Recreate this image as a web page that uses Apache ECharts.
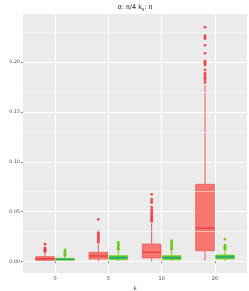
<!DOCTYPE html>
<html><head><meta charset="utf-8">
<script src="https://cdn.jsdelivr.net/npm/echarts@6/dist/echarts.min.js"></script>
<style>html,body{margin:0;padding:0;background:#fff}#c{width:249px;height:291px}</style>
</head><body><div id="c"></div>
<script>
const categories = ['0', '5', '10', '20'];
const yTicks = [0, 0.05, 0.10, 0.15, 0.20];
const yMinor = [0.025, 0.075, 0.125, 0.175, 0.225];
// [lowerWhisker, Q1, median, Q3, upperWhisker]
const redBox = [
  [0.0000, 0.0010, 0.0025, 0.0046, 0.0090],
  [0.0000, 0.0023, 0.0053, 0.0090, 0.0170],
  [0.0000, 0.0033, 0.0090, 0.0173, 0.0380],
  [0.0005, 0.0106, 0.0333, 0.0773, 0.1770]
];
const greenBox = [
  [0.0000, 0.0010, 0.0020, 0.0030, 0.0050],
  [0.0000, 0.0016, 0.0035, 0.0056, 0.0112],
  [0.0000, 0.0016, 0.0035, 0.0056, 0.0112],
  [0.0000, 0.0023, 0.0043, 0.0063, 0.0110]
];
const redOutliers = [
  [0.0172, 0.0135, 0.0125, 0.0118, 0.0110, 0.0103, 0.0097],
  [0.0420, 0.0295, 0.0280, 0.0265, 0.0250, 0.0235, 0.0220, 0.0205, 0.0190],
  [0.0673, 0.0625, 0.0605, 0.0590, 0.0545, 0.0520, 0.0500, 0.0480, 0.0460, 0.0445, 0.0430, 0.0415, 0.0400],
  [0.2353, 0.2267, 0.2250, 0.2237, 0.2170, 0.2090, 0.2010, 0.1997, 0.1987, 0.1973, 0.1923, 0.1890, 0.1873, 0.1850, 0.1837, 0.1823, 0.1797]
];
const greenOutliers = [
  [0.0113, 0.0095, 0.0085, 0.0075, 0.0065, 0.0058],
  [0.0190, 0.0175, 0.0160, 0.0145, 0.0130, 0.0120],
  [0.0206, 0.0190, 0.0175, 0.0160, 0.0145, 0.0130, 0.0120],
  [0.0223, 0.0163, 0.0150, 0.0140, 0.0130, 0.0120]
];

const OFF = 0.1875, BW = 0.35;
const RED = {fill: 'rgba(248,105,98,0.9)', stroke: '#EE5A5A', median: '#E3363C', pt: '#EE3E48'};
const GRN = {fill: 'rgba(70,196,45,0.95)', stroke: '#7DD324', median: '#1E9F86', pt: '#66C91A'};

function boxData(arr) { return arr.map((b, i) => [i + 1].concat(b)); }
function ptData(arr, off) {
  const out = [];
  arr.forEach((vals, i) => vals.forEach(v => out.push([i + 1 + off, v])));
  return out;
}
function boxRender(off, c) {
  return function (params, api) {
    const x = api.value(0) + off;
    const lo = api.coord([x, api.value(1)]);
    const q1 = api.coord([x, api.value(2)]);
    const md = api.coord([x, api.value(3)]);
    const q3 = api.coord([x, api.value(4)]);
    const hi = api.coord([x, api.value(5)]);
    const hw = api.size([BW, 0])[0] / 2;
    return {type: 'group', children: [
      {type: 'line', shape: {x1: lo[0], y1: lo[1], x2: q1[0], y2: q1[1]}, style: {stroke: c.stroke, lineWidth: 1}},
      {type: 'line', shape: {x1: q3[0], y1: q3[1], x2: hi[0], y2: hi[1]}, style: {stroke: c.stroke, lineWidth: 1}},
      {type: 'rect', shape: {x: q3[0] - hw, y: q3[1], width: 2 * hw, height: q1[1] - q3[1]}, style: {fill: c.fill, stroke: c.stroke, lineWidth: 0.8}},
      {type: 'line', shape: {x1: md[0] - hw, y1: md[1], x2: md[0] + hw, y2: md[1]}, style: {stroke: c.median, lineWidth: 1.2}}
    ]};
  };
}

const chart = echarts.init(document.getElementById('c'), null, {renderer: 'canvas'});
chart.setOption({
  animation: false,
  backgroundColor: '#fff',
  grid: {left: 23, right: 2, top: 14, bottom: 18, show: true, backgroundColor: '#EBEBEB', borderWidth: 0, outerBoundsMode: 'none', containLabel: false},
  graphic: [{
    type: 'text', x: 135, y: 3,
    style: {text: 'σ: π/4 k{s|s}: π', align: 'center', fontSize: 6.5, fill: '#1a1a1a', fontFamily: 'DejaVu Sans',
      rich: {s: {fontSize: 4.5, padding: [4, 0, 0, 0], fill: '#1a1a1a'}}}
  }],
  xAxis: {
    type: 'value', min: 0.4, max: 4.6,
    name: 'ε', nameLocation: 'middle', nameGap: 11,
    nameTextStyle: {fontSize: 6, color: '#1a1a1a', fontFamily: 'DejaVu Sans'},
    axisLine: {show: false},
    axisTick: {show: true, length: 2, lineStyle: {color: '#333', width: 0.6}, customValues: [1, 2, 3, 4]},
    axisLabel: {customValues: [1, 2, 3, 4], formatter: v => categories[Math.round(v) - 1], fontSize: 5, color: '#4D4D4D', margin: 3, fontFamily: 'DejaVu Sans'},
    splitLine: {show: true, lineStyle: {color: '#fff', width: 1.1}}
  },
  yAxis: {
    type: 'value', min: -0.0118, max: 0.2485,
    name: 'ASE(λ̂)', nameLocation: 'middle', nameGap: 15, nameRotate: 90,
    nameTextStyle: {fontSize: 6, color: '#1a1a1a', fontFamily: 'DejaVu Sans'},
    axisLine: {show: false},
    axisTick: {show: true, length: 2, lineStyle: {color: '#333', width: 0.6}, customValues: yTicks},
    axisLabel: {customValues: yTicks, formatter: v => v.toFixed(2), fontSize: 4.8, color: '#4D4D4D', margin: 3, fontFamily: 'DejaVu Sans'},
    splitLine: {show: true, lineStyle: {color: '#fff', width: 1.1}}
  },
  series: [
    {type: 'scatter', data: [], z: 1, silent: true,
      markLine: {silent: true, symbol: 'none', label: {show: false}, animation: false,
        lineStyle: {color: '#fff', width: 0.5, type: 'solid'},
        data: yMinor.map(v => ({yAxis: v}))}},
    {type: 'custom', renderItem: boxRender(-OFF, RED), data: boxData(redBox), encode: {x: 0, y: [1, 2, 3, 4, 5]}, z: 3},
    {type: 'custom', renderItem: boxRender(OFF, GRN), data: boxData(greenBox), encode: {x: 0, y: [1, 2, 3, 4, 5]}, z: 3},
    {type: 'scatter', data: ptData(redOutliers, -OFF), symbolSize: 2.8, itemStyle: {color: RED.pt, opacity: 0.9}, z: 4},
    {type: 'scatter', data: ptData(greenOutliers, OFF), symbolSize: 2.8, itemStyle: {color: GRN.pt, opacity: 0.9}, z: 4}
  ]
});
</script></body></html>
